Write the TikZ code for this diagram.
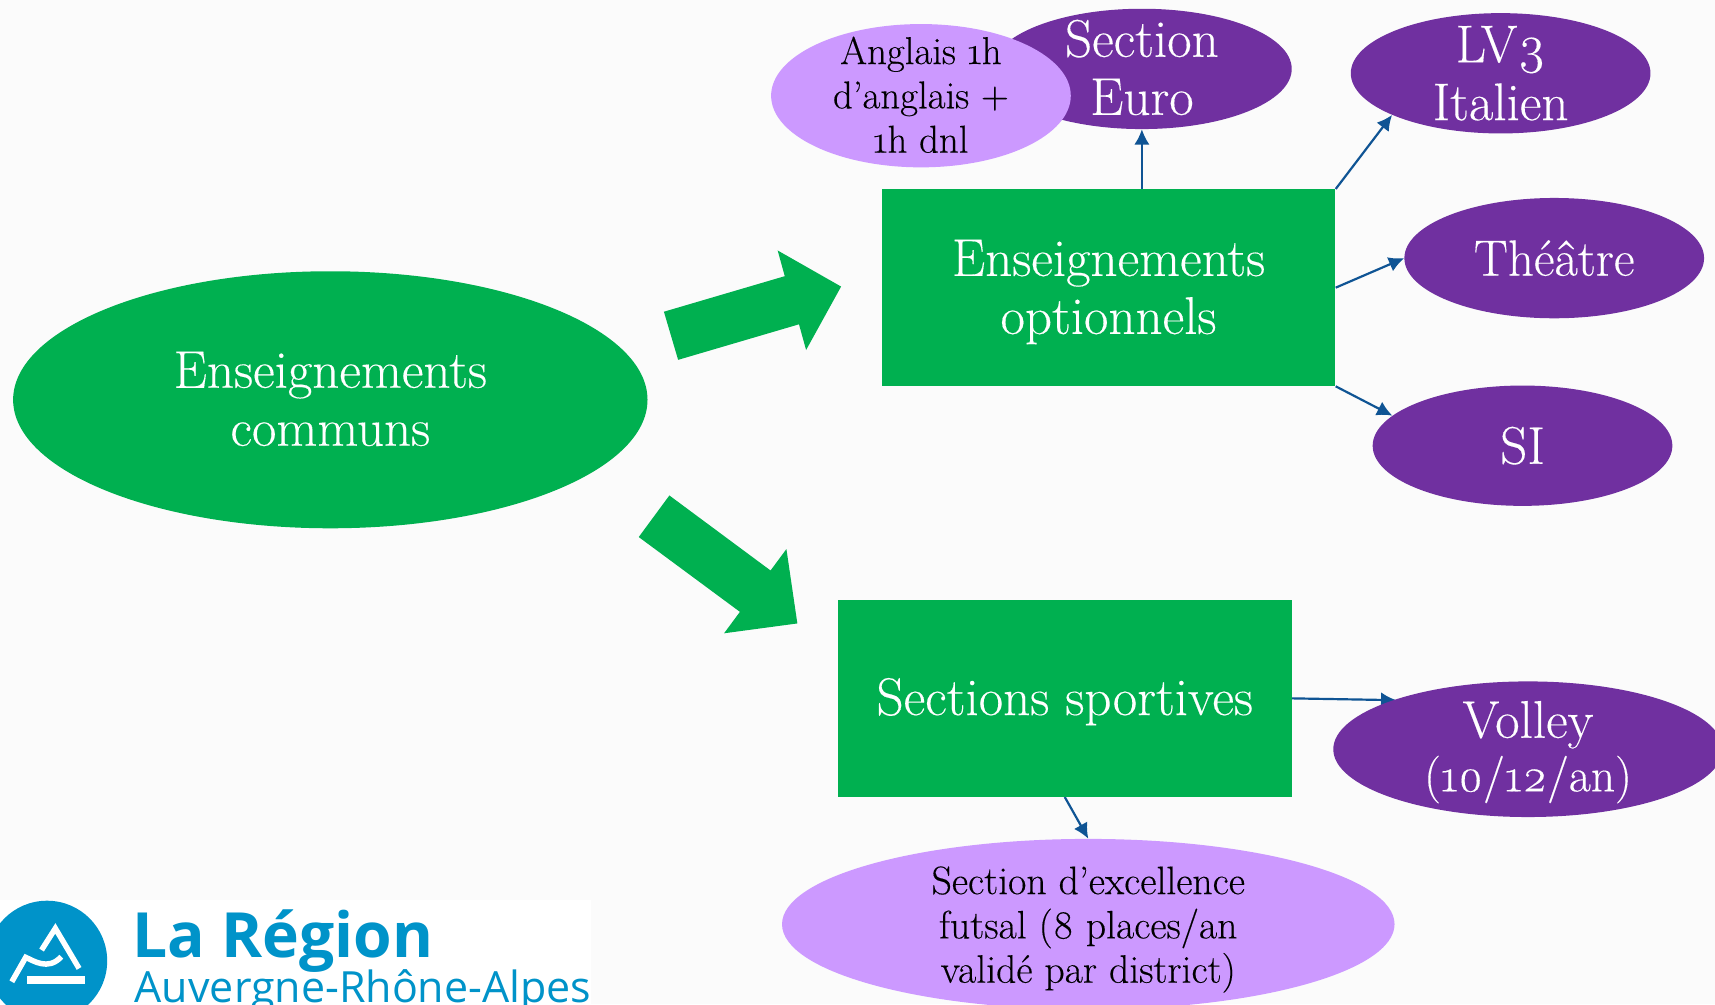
\documentclass[tikz,border=0pt]{standalone}
\usepackage{fontspec}
\setmainfont{Latin Modern Roman}[Numbers=OldStyle,FakeBold=0.25]
\newfontfamily\logofont{Open Sans}
\usetikzlibrary{shapes.geometric,arrows.meta}
\definecolor{pagebg}{HTML}{FBFBFB}
\definecolor{leaf}{HTML}{00B050}
\definecolor{deep}{HTML}{7030A0}
\definecolor{pale}{HTML}{CC99FF}
\definecolor{link}{HTML}{0F5494}
\definecolor{brand}{HTML}{0093C9}
\newcommand\tallline[1]{\rule{0pt}{#1}}
\newcommand\deepline[1]{\rule[-#1]{0pt}{#1}}
\pgfdeclarelayer{ground}
\pgfdeclarelayer{under}
\pgfsetlayers{ground,under,main}
\tikzset{
  x=1pt,y=-1pt,
  lbl/.style={align=center,font=\fontsize{48.5}{53}\selectfont},
  bigoval/.style={ellipse,fill=leaf,text=white,inner sep=-20pt,lbl,minimum width=580pt,minimum height=235pt},
  box/.style={rectangle,fill=leaf,text=white,inner sep=0pt,lbl,minimum width=415pt,minimum height=180pt},
  opt/.style={ellipse,fill=deep,text=white,inner sep=-20pt,lbl,minimum width=274pt,minimum height=110pt},
  note/.style={ellipse,fill=pale,text=black,inner sep=-20pt,align=center},
  conn/.style={draw=link,line width=2pt,-{Latex[length=14pt,width=14pt]}},
  blockarrow/.style={fill=leaf}
}
\begin{document}
\begin{tikzpicture}
\useasboundingbox (0,0) rectangle (1568,918);
\clip (0,0) rectangle (1568,918);
\begin{pgfonlayer}{ground}
\fill[pagebg] (0,0) rectangle (1568,918);
\end{pgfonlayer}

\node[bigoval] (commun) at (302,365.5) {Enseignements\\communs\deepline{2pt}};
\node[box] (optn) at (1013.5,263) {\tallline{41pt}Enseignements\\optionnels};
\node[box] (sport) at (973.5,638.5) {\tallline{40pt}Sections sportives};
\node[opt] (euro) at (1044,63) {Section\\Euro\deepline{3pt}};
\node[note,font=\fontsize{35.5}{40.5}\selectfont,minimum width=274pt,minimum height=131pt] (angl) at (842,87.5) {Anglais 1h\\d’anglais +\\1h dnl\deepline{2pt}};
\node[opt] (lvt) at (1372,67) {LV3\\Italien};
\node[opt,font=\fontsize{46.5}{53}\selectfont] (theatre) at (1421,236) {Théâtre};
\node[opt] (si) at (1392,407.5) {SI};
\node[opt,minimum width=356pt,minimum height=124pt] (volley) at (1397,685) {\tallline{39pt}Volley\\[-4pt]{\fontsize{43.5}{53}\selectfont (10/12/an)}};
\node[note,font=\fontsize{36.3}{40.5}\selectfont,minimum width=560pt,minimum height=156pt] (excel) at (995,845) {\tallline{35pt}Section d’excellence\\futsal (8 places/an\\validé par district)};

\begin{pgfonlayer}{under}
\draw[conn] (optn.north -| euro.south) -- (euro.south);
\draw[conn] (optn.north east) -- (lvt.201.9);
\draw[conn] (optn.east) -- (theatre.west);
\draw[conn] (optn.south east) -- (si.167.2);
\draw[conn,shorten >=-3pt] (sport.east) -- (volley.160.5);
\draw[conn] (sport.south) -- (excel.north);
\end{pgfonlayer}

\fill[blockarrow] (607,285) -- (717.5,252.5) -- (711,229) -- (769,262) -- (737,320) -- (730.5,296.5) -- (620,329) -- cycle;
\fill[blockarrow] (612,453) -- (704.5,521.6) -- (719,502) -- (729,570) -- (662,579) -- (676.5,559.4) -- (584,491) -- cycle;

% logo
\fill[white] (0,823) rectangle (540,918);
\fill[brand] (43,878.5) circle[radius=55];
\draw[white,line width=6.7pt] (24.6,896) -- (77.7,896);
\draw[white,line width=5pt] (10.8,897.6) -- (23.5,875.3) .. controls (30,878) and (44,888) .. (56,874.7);
\draw[white,line width=5pt] (38,868.6) -- (50.6,848.8) -- (72.3,885.4);
\node[anchor=base west,inner sep=0pt,text=brand,font=\logofont\bfseries\fontsize{57}{57}\selectfont] (logoa) at (121,875) {La Région};
\node[anchor=base west,inner sep=0pt,text=brand,font=\logofont\fontsize{39.3}{40}\selectfont] (logob) at (123,917) {Auvergne-Rhône-Alpes};
\end{tikzpicture}
\end{document}
